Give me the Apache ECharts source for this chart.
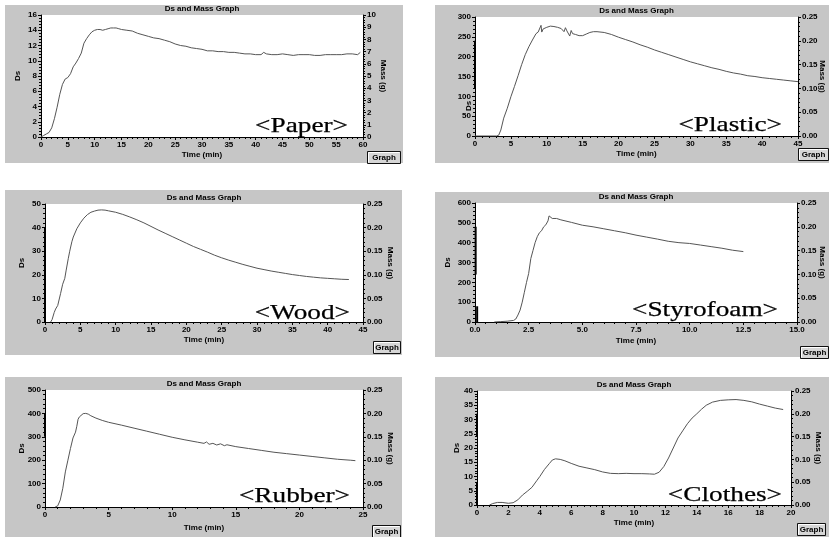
<!DOCTYPE html>
<html>
<head>
<meta charset="utf-8">
<script src="https://cdn.jsdelivr.net/npm/echarts@6/dist/echarts.min.js"></script>
<style>
  html, body { margin: 0; padding: 0; background: #fff; }
  #chart { width: 829px; height: 537px; }
</style>
</head>
<body>
<div id="chart"></div>
<script>
// Ds readings [time (min), Ds]
const paperDs = [[0, 0], [0.5, 0.2], [1, 0.4], [1.5, 0.6], [2, 1.2], [2.5, 2.4], [3, 3.9], [3.5, 5.6], [4, 6.9], [4.5, 7.6],
  [5, 7.8], [5.5, 8.3], [6, 9.2], [6.5, 9.7], [7, 10.3], [7.5, 11.0], [8, 12.3], [8.5, 12.9], [9, 13.4], [9.5, 13.8],
  [10, 14.0], [10.5, 14.1], [11, 14.1], [11.5, 14.0], [12, 14.1], [12.5, 14.2], [13, 14.3], [13.5, 14.3], [14, 14.3], [14.5, 14.2],
  [15, 14.1], [16, 14.0], [17, 13.9], [18, 13.6], [19, 13.4], [20, 13.2], [21, 13.0], [22, 12.9], [23, 12.7], [24, 12.5],
  [25, 12.2], [26, 12.0], [27, 11.9], [28, 11.7], [29, 11.6], [30, 11.5], [31, 11.3], [32, 11.3], [33, 11.2], [34, 11.2],
  [35, 11.1], [36, 11.1], [37, 11.0], [38, 10.9], [39, 10.9], [40, 10.8], [41, 10.8], [41.5, 11.1], [42, 10.9], [43, 10.8],
  [44, 10.8], [45, 10.9], [46, 10.8], [47, 10.7], [48, 10.8], [49, 10.8], [50, 10.8], [51, 10.7], [52, 10.7], [53, 10.8],
  [54, 10.8], [55, 10.8], [56, 10.8], [57, 10.9], [58, 10.9], [59, 10.8], [59.5, 11.1]]

const plasticDs = [[0, 0], [3, 0], [3.3, 2], [3.6, 15], [4, 45], [4.5, 70], [5, 99], [5.5, 125], [6, 152], [6.5, 180],
  [7, 205], [7.5, 225], [8, 242], [8.5, 258], [8.8, 262], [9, 265], [9.2, 279], [9.3, 262], [9.5, 270], [10, 274],
  [10.5, 277], [11, 276], [11.5, 274], [12, 271], [12.2, 276], [12.4, 263], [12.6, 273], [12.8, 265], [13, 268], [13.2, 252],
  [13.4, 266], [13.6, 258], [14, 256], [14.5, 253], [15, 253], [15.5, 257], [16, 261], [16.5, 263], [17, 263], [18, 261],
  [19, 256], [20, 249], [21, 243], [22, 237], [23, 230], [24, 224], [25, 217], [26, 211], [27, 205], [28, 199],
  [29, 193], [30, 187], [31, 182], [32, 177], [33, 172], [34, 168], [35, 163], [36, 159], [37, 156], [38, 152],
  [39, 150], [40, 147], [41, 145], [42, 143], [43, 141], [44, 139], [45, 137]]

const woodDs = [[0.8, 0], [1, 1], [1.3, 4], [1.5, 5.5], [1.8, 7], [2, 7.8], [2.2, 12], [2.5, 16], [2.8, 18.5], [3, 22],
  [3.3, 27], [3.5, 30], [3.8, 34], [4, 36], [4.5, 39.5], [5, 42], [5.5, 44], [6, 45.5], [6.5, 46.5], [7, 47],
  [7.5, 47.4], [8, 47.5], [8.5, 47.4], [9, 47.1], [10, 46.5], [11, 45.6], [12, 44.5], [13, 43.3], [14, 42], [15, 40.5],
  [16, 39], [17, 37.6], [18, 36.2], [19, 34.8], [20, 33.4], [21, 32], [22, 30.8], [23, 29.6], [24, 28.3], [25, 27.2],
  [26, 26.2], [27, 25.3], [28, 24.4], [29, 23.6], [30, 22.8], [31, 22.2], [32, 21.6], [33, 21.1], [34, 20.6], [35, 20.1],
  [36, 19.7], [37, 19.3], [38, 19], [39, 18.7], [40, 18.5], [41, 18.3], [42, 18.1], [43, 18]]

const styrofoamDs = [[0.9, 0], [1.2, 2], [1.5, 4], [1.8, 8], [1.9, 15], [2, 35], [2.1, 60], [2.2, 100], [2.3, 150], [2.4, 200],
  [2.5, 245], [2.6, 320], [2.7, 360], [2.8, 400], [2.9, 430], [3, 450], [3.1, 460], [3.2, 480], [3.3, 490], [3.4, 510],
  [3.45, 535], [3.5, 530], [3.6, 522], [3.8, 522], [4, 515], [4.5, 502], [5, 488], [5.5, 480], [6, 470], [6.5, 460],
  [7, 450], [7.5, 438], [8, 428], [8.5, 418], [9, 407], [9.5, 400], [10, 396], [10.5, 388], [11, 380], [11.5, 372],
  [12, 362], [12.5, 355]]

const rubberDs = [[0.8, 0], [1, 5], [1.2, 30], [1.4, 80], [1.6, 150], [1.8, 200], [2, 250], [2.2, 295], [2.4, 320], [2.5, 345],
  [2.6, 375], [2.7, 385], [2.8, 393], [3, 399], [3.2, 400], [3.4, 397], [3.6, 390], [4, 380], [4.5, 370], [5, 362],
  [6, 350], [7, 337], [8, 324], [9, 311], [10, 298], [11, 287], [12, 277], [12.5, 272], [12.7, 278], [12.9, 268],
  [13.2, 272], [13.5, 265], [13.8, 270], [14.1, 262], [14.3, 266], [15, 258], [16, 250], [17, 242], [18, 234], [19, 228],
  [20, 222], [21, 216], [22, 210], [23, 204], [24, 200], [24.4, 198]]

const clothesDs = [[0.8, 0], [1, 0.5], [1.3, 0.9], [1.6, 0.9], [2, 0.6], [2.3, 0.8], [2.6, 1.8], [2.9, 3.5], [3.2, 4.8], [3.5, 6.2],
  [3.8, 8.5], [4, 10], [4.3, 12.5], [4.6, 14.5], [4.8, 15.8], [5, 16.2], [5.3, 16], [5.6, 15.5], [6, 14.6], [6.5, 13.6],
  [7, 13], [7.5, 12.4], [8, 11.6], [8.5, 11.1], [9, 11], [9.5, 11.1], [10, 11], [10.5, 11], [11, 10.9], [11.3, 10.8],
  [11.6, 11.5], [11.9, 13.5], [12.2, 16.5], [12.5, 20], [12.8, 23.5], [13.1, 26], [13.4, 28.5], [13.7, 30.5], [14, 32], [14.3, 33.6],
  [14.6, 35], [15, 36.1], [15.5, 36.7], [16, 36.9], [16.5, 37], [17, 36.7], [17.5, 36.2], [18, 35.4], [18.5, 34.7], [19, 34],
  [19.5, 33.5]]

// mass (g) traces, only the drop at the start is visible
const paperMass = []
const plasticMass = [[0, 0.2], [0, 0.1]]
const woodMass = [[0, 0.2], [0, 0]]
const styrofoamMass = [[0.03, 0.2], [0.03, 0.1], [0.06, '-'], [0.1, 0.033], [0.1, 0]]
const rubberMass = [[0, 0.2], [0, 0.15]]
const clothesMass = [[0, 0.2], [0, 0.15], [0, '-'], [0, 0.05], [0, 0]]

const labels = ['<Paper>', '<Plastic>', '<Wood>', '<Styrofoam>', '<Rubber>', '<Clothes>']
const dsMax = [16, 300, 50, 600, 500, 40]
const dsStep = [2, 50, 10, 100, 100, 5]
const massMax = [10, 0.25, 0.25, 0.25, 0.25, 0.25]
const massStep = [1, 0.05, 0.05, 0.05, 0.05, 0.05]
const timeMax = [60, 45, 45, 15, 25, 20]
const timeStep = [5, 5, 5, 2.5, 5, 2]

const dsData = [paperDs, plasticDs, woodDs, styrofoamDs, rubberDs, clothesDs]
const massData = [paperMass, plasticMass, woodMass, styrofoamMass, rubberMass, clothesMass]

// layout of each window: gray box, plot rect, gaps, label, button
// dsAt: explicit spot for the "Ds" name when it is not centred on the axis
const panels = [
  { box: [5, 5, 398, 158], plot: [41, 15, 322, 122], dsGap: 19, massGap: 16, timeGap: 14, label: [348, 137], btn: [367, 151, 33, 12] },
  { box: [435, 5, 394, 158], plot: [475, 17, 323, 119], dsAt: [469, 106], massGap: 20, timeGap: 14, label: [782, 136], btn: [798, 148, 30, 12] },
  { box: [5, 190, 397, 165], plot: [45, 204, 318, 118], dsGap: 19, massGap: 23, timeGap: 14, label: [350, 324], btn: [373, 341, 27, 12] },
  { box: [435, 192, 394, 165], plot: [475, 203, 322, 119], dsGap: 23, massGap: 21, timeGap: 15, label: [778, 321], btn: [800, 346, 28, 12] },
  { box: [5, 377, 397, 160], plot: [45, 390, 318, 117], dsGap: 19, massGap: 23, timeGap: 17, label: [350, 507], btn: [372, 525, 28, 12] },
  { box: [435, 377, 394, 160], plot: [477, 391, 314, 114], dsGap: 16, massGap: 23, timeGap: 14, label: [782, 506], btn: [797, 523, 28, 12] }
]

const font = 'Liberation Sans'
const labelStyle = { color: '#000', fontSize: 8, fontWeight: 'bold', fontFamily: font }
const lineBlack = { lineStyle: { color: '#000', width: 1 } }

const grid = []
const xAxis = []
const yAxis = []
const series = []
const graphic = []

panels.forEach((p, i) => {
  grid.push({
    left: p.plot[0], top: p.plot[1], width: p.plot[2], height: p.plot[3],
    show: true, backgroundColor: '#fff', borderWidth: 0
  })
  xAxis.push({
    type: 'value', gridIndex: i, min: 0, max: timeMax[i], interval: timeStep[i],
    name: 'Time (min)', nameLocation: 'middle', nameGap: p.timeGap, nameTextStyle: labelStyle,
    nameMoveOverlap: false,
    axisLine: { onZero: false, ...lineBlack },
    axisTick: { length: 3, ...lineBlack },
    minorTick: { show: true, splitNumber: 5, length: 2, ...lineBlack },
    splitLine: { show: false },
    axisLabel: {
      ...labelStyle, margin: 4,
      formatter: v => (timeStep[i] % 1 ? v.toFixed(1) : String(v))
    }
  })
  yAxis.push({
    type: 'value', gridIndex: i, position: 'left', min: 0, max: dsMax[i], interval: dsStep[i],
    name: p.dsAt ? '' : 'Ds', nameLocation: 'middle', nameGap: p.dsGap, nameRotate: 90, nameTextStyle: labelStyle,
    nameMoveOverlap: false,
    axisLine: { show: true, onZero: false, ...lineBlack },
    axisTick: { show: true, length: 3, ...lineBlack },
    minorTick: { show: true, splitNumber: 5, length: 2, ...lineBlack },
    splitLine: { show: false },
    axisLabel: { ...labelStyle, margin: 4 }
  })
  yAxis.push({
    type: 'value', gridIndex: i, position: 'right', min: 0, max: massMax[i], interval: massStep[i],
    name: 'Mass (g)', nameLocation: 'middle', nameGap: p.massGap, nameRotate: -90, nameTextStyle: labelStyle,
    nameMoveOverlap: false,
    axisLine: { show: true, onZero: false, ...lineBlack },
    axisTick: { show: true, length: 3, ...lineBlack },
    minorTick: { show: true, splitNumber: 5, length: 2, ...lineBlack },
    splitLine: { show: false },
    axisLabel: {
      ...labelStyle, margin: 4,
      formatter: v => (massStep[i] < 1 ? v.toFixed(2) : String(v))
    }
  })
  series.push({
    type: 'line', xAxisIndex: i, yAxisIndex: i * 2, data: dsData[i],
    symbol: 'none', lineStyle: { color: '#555', width: 1 }, silent: true, z: 3
  })
  series.push({
    type: 'line', xAxisIndex: i, yAxisIndex: i * 2 + 1, data: massData[i],
    symbol: 'none', connectNulls: false, lineStyle: { color: '#000', width: 2 }, silent: true, z: 4
  })

  graphic.push({
    type: 'rect', z: -10, silent: true,
    shape: { x: p.box[0], y: p.box[1], width: p.box[2], height: p.box[3] },
    style: { fill: '#c6c6c6' }
  })
  graphic.push({
    type: 'text', z: 10, silent: true,
    x: p.plot[0] + p.plot[2] / 2, y: p.plot[1] - 6,
    style: { text: 'Ds and Mass Graph', font: 'bold 8px "Liberation Sans"', fill: '#000', align: 'center', verticalAlign: 'middle' }
  })
  if (p.dsAt) {
    graphic.push({
      type: 'text', z: 10, silent: true,
      x: p.dsAt[0], y: p.dsAt[1], rotation: Math.PI / 2,
      style: { text: 'Ds', font: 'bold 8px "Liberation Sans"', fill: '#000', align: 'center', verticalAlign: 'middle' }
    })
  }
  graphic.push({
    type: 'text', z: 10, silent: true,
    x: p.label[0], y: p.label[1], scaleX: 1.24,
    style: {
      text: labels[i], font: '22px "Liberation Serif"', fill: '#000',
      stroke: '#000', lineWidth: 0.25, align: 'right', verticalAlign: 'bottom'
    }
  })
  // 3D style push button
  graphic.push({
    type: 'rect', z: 10, silent: true,
    shape: { x: p.btn[0] + 0.5, y: p.btn[1] + 0.5, width: p.btn[2], height: p.btn[3] },
    style: { fill: '#d6d6d6', stroke: '#111', lineWidth: 1 }
  })
  graphic.push({
    type: 'polyline', z: 11, silent: true,
    shape: { points: [[p.btn[0] + 1.5, p.btn[1] + p.btn[3] - 0.5], [p.btn[0] + 1.5, p.btn[1] + 1.5], [p.btn[0] + p.btn[2] - 0.5, p.btn[1] + 1.5]] },
    style: { stroke: '#fff', lineWidth: 1, fill: null }
  })
  graphic.push({
    type: 'text', z: 12, silent: true,
    x: p.btn[0] + p.btn[2] / 2 + 0.5, y: p.btn[1] + p.btn[3] / 2 + 0.5,
    style: { text: 'Graph', font: 'bold 8px "Liberation Sans"', fill: '#000', align: 'center', verticalAlign: 'middle' }
  })
})

const chart = echarts.init(document.getElementById('chart'))
chart.setOption({
  animation: false,
  backgroundColor: '#fff',
  grid: grid,
  xAxis: xAxis,
  yAxis: yAxis,
  series: series,
  graphic: graphic
})
</script>
</body>
</html>
